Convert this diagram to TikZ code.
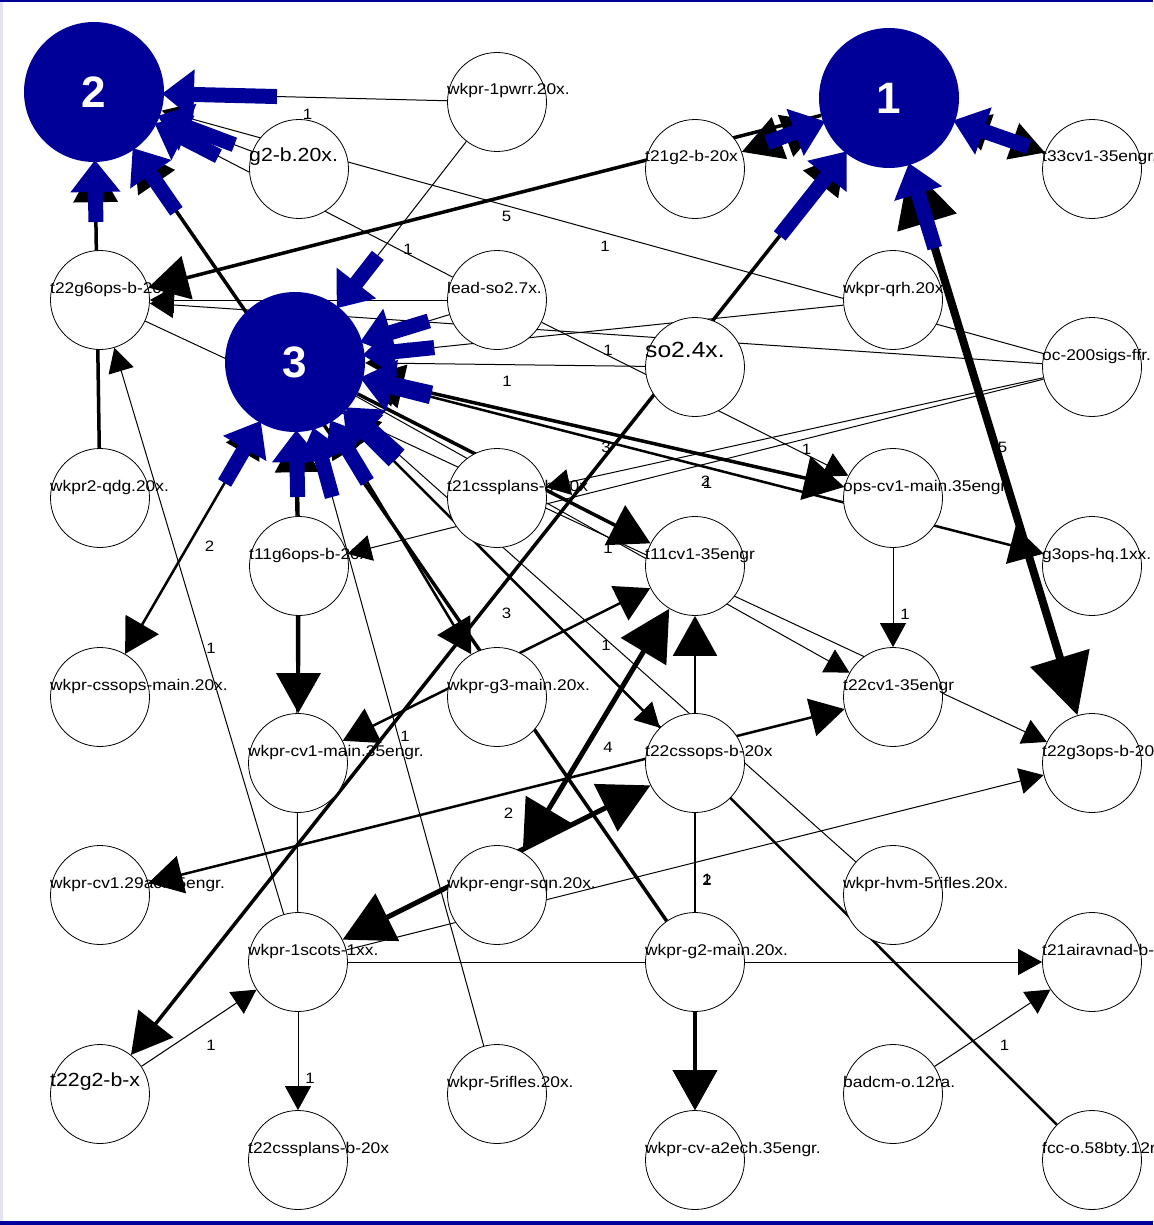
\documentclass[tikz,border=0pt]{standalone}
\usepackage{fontspec}
\usetikzlibrary{arrows.meta,calc}
\newfontfamily\lblfont[FakeStretch=1.12]{Liberation Sans}
\newfontfamily\hubfont{Liberation Sans}
\definecolor{hubblue}{RGB}{0,0,153}
\definecolor{rimlav}{RGB}{226,226,242}
\pgfdeclarelayer{paper}
\pgfdeclarelayer{edges}
\pgfdeclarelayer{hubtips}
\pgfdeclarelayer{labels}
\pgfsetlayers{paper,edges,hubtips,main,labels}

\tikzset{
  TriA/.tip={Triangle[length=24pt,width=26pt]},
  TriB/.tip={Triangle[length=34pt,width=38pt]},
  TriC/.tip={Triangle[length=40pt,width=44pt]},
  TriE/.tip={Triangle[length=50pt,width=52pt]},
  TriD/.tip={Triangle[length=60pt,width=60pt]},
  hub/.style={circle,fill=hubblue,minimum size=140pt,inner sep=0pt,text=white,
    font={\hubfont\bfseries\fontsize{44}{44}\selectfont}},
  vtx/.style={circle,draw=black,line width=0.8pt,fill=white,minimum size=99pt,inner sep=0pt},
  vname/.style={anchor=base west,inner sep=0pt,font={\lblfont\fontsize{15.5}{16}\selectfont}},
  bigname/.style={vname,font={\lblfont\fontsize{19}{20}\selectfont}},
  bigname2/.style={vname,font={\lblfont\fontsize{19}{20}\selectfont},yshift=1pt},
  soname/.style={vname,font={\lblfont\fontsize{22}{24}\selectfont},yshift=3pt},
  wlabel/.style={inner sep=0pt,font={\lblfont\fontsize{15}{16}\selectfont}},
  ea/.style={line width=1pt,-TriA},
  eb/.style={line width=2.5pt,-TriB},
  ec/.style={line width=3.5pt,-TriC},
  ee/.style={line width=5pt,-TriE},
  ed/.style={line width=8pt,-TriD},
  hubin/.style={hubblue,line width=15pt,-{Triangle[length=32pt,width=48pt]}},
}

% a vertex: white circle plus its name, set from the circle's left edge
\newcommand\putvtx[4][vname]{%
  \node[vtx] (#2) at (#3) {};
  \begin{pgfonlayer}{labels}\node[#1] (#2-name) at ($(#2)+(-50,-7)$) {#4};\end{pgfonlayer}}
% heavy blue head of a tie that ends on a hub
\newcommand\hubtip[3][140]{\draw[hubin] ($(#2)!#1pt!(#3)$) -- ($(#2)!68pt!(#3)$);}
% tie value, placed just below the middle of the tie
\newcommand\wlab[4][12,17]{\node[wlabel] (w-#2-#3) at ($(#2)!0.5!(#3)+(#1)$) {#4};}

\begin{document}
\begin{tikzpicture}[x=1pt,y=-1pt]
\useasboundingbox (0,0) rectangle (1153,1225);
\begin{pgfonlayer}{paper}
  \fill[white] (0,0) rectangle (1153,1225);
\end{pgfonlayer}

% hubs
\node[hub] (N1) at (889,98) {1};
\node[hub] (N2) at (94,92) {2};
\node[hub] (N3) at (295,362) {3};

% vertices
\putvtx{pwrr}{497,102}{wkpr-1pwrr.20x.}
\putvtx[bigname]{g2b}{299,169}{g2-b.20x.}
\putvtx{t21g2b}{695,169}{t21g2-b-20x}
\putvtx{t33}{1092,169}{t33cv1-35engr.}
\putvtx{t22g6}{100,300}{t22g6ops-b-20x}
\putvtx{leadso}{497,300}{lead-so2.7x.}
\putvtx{qrh}{893,300}{wkpr-qrh.20x.}
\putvtx[soname]{so24}{695,367}{so2.4x.}
\putvtx{oc200}{1092,367}{oc-200sigs-ffr.}
\putvtx{qdg}{100,498}{wkpr2-qdg.20x.}
\putvtx{t21css}{497,498}{t21cssplans-b-20x}
\putvtx{opscv1}{893,498}{ops-cv1-main.35engr.}
\putvtx{t11g6}{299,566}{t11g6ops-b-20x}
\putvtx{t11cv1}{695,566}{t11cv1-35engr}
\putvtx{g3hq}{1092,566}{g3ops-hq.1xx.}
\putvtx{cssops}{100,697}{wkpr-cssops-main.20x.}
\putvtx{g3main}{497,697}{wkpr-g3-main.20x.}
\putvtx{t22cv1}{893,697}{t22cv1-35engr}
\putvtx{cv1main}{298,763}{wkpr-cv1-main.35engr.}
\putvtx{t22cssops}{695,763}{t22cssops-b-20x}
\putvtx{t22g3}{1092,763}{t22g3ops-b-20x}
\putvtx{cv129}{100,895}{wkpr-cv1.29ac.35engr.}
\putvtx{engrsqn}{497,895}{wkpr-engr-sqn.20x.}
\putvtx{hvm}{893,895}{wkpr-hvm-5rifles.20x.}
\putvtx{scots}{298,962}{wkpr-1scots-1xx.}
\putvtx{g2main}{695,962}{wkpr-g2-main.20x.}
\putvtx{t21air}{1092,962}{t21airavnad-b-20x}
\putvtx[bigname2]{t22g2bx}{100,1094}{t22g2-b-x}
\putvtx{rifles5}{497,1094}{wkpr-5rifles.20x.}
\putvtx{badcm}{893,1094}{badcm-o.12ra.}
\putvtx{t22cssplans}{298,1160}{t22cssplans-b-20x}
\putvtx{cva2}{695,1160}{wkpr-cv-a2ech.35engr.}
\putvtx{fcc}{1092,1160}{fcc-o.58bty.12ra.}

\begin{pgfonlayer}{edges}
  % ties into hub 2
  \draw[ea] (pwrr) -- (N2);
  \draw[ea] (leadso) -- (N2);
  \draw[ea] (g2b) -- (N2);
  \draw[ea] (oc200) -- (N2);
  \draw[ec] (qdg) -- (N2);
  \draw[ec] (g2main) -- (N2);
  % ties into hub 1
  \draw[ec] (N1) -- (t22g6);
  \draw[ec,TriC-TriC] (t21g2b) -- (N1);
  \draw[eb,TriB-TriB] (t33) -- (N1);
  \draw[ec,TriC-TriC] (t22g2bx) -- (N1);
  \draw[ed,TriD-TriD] (t22g3) -- (N1);
  % ties into hub 3
  \draw[ea] (pwrr) -- (N3);
  \draw[ea] (leadso) -- (N3);
  \draw[ea] (so24) -- (N3);
  \draw[ea] (qrh) -- (N3);
  \draw[ec,TriC-TriC] (N3) -- (opscv1);
  \draw[eb,TriB-TriB] (N3) -- (g3hq);
  \draw[ec] (N3) -- (t11cv1);
  \draw[ea] (N3) -- (t22cv1);
  \draw[ea] (N3) -- (t22cssops);
  \draw[eb,TriB-TriB] (N3) -- (cssops);
  \draw[ec] (t11g6) -- (N3);
  \draw[ea] (scots) -- (N3);
  \draw[eb,TriB-TriB] (N3) -- (g3main);
  \draw[ea] (rifles5) -- (N3);
  \draw[ea] (hvm) -- (N3);
  \draw[eb] (fcc) -- (N3);
  % remaining ties
  \draw[ea] (t22g6) -- (t22g3);
  \draw[ea] (oc200) -- (t22g6);
  \draw[ea] (leadso) -- (t22g6);
  \draw[ea] (oc200) -- (t11g6);
  \draw[ea] (oc200) -- (t21css);
  \draw[ea] (leadso) -- (opscv1);
  \draw[ea] (opscv1) -- (t22cv1);
  \draw[ec] (t11g6) -- (cv1main);
  \draw[ea] (scots) -- (t22g6);
  \draw[eb,TriB-TriB] (cv1main) -- (t11cv1);
  \draw[ee,TriE-TriE] (engrsqn) -- (t11cv1);
  \draw[eb,TriB-TriB] (cv129) -- (t22cv1);
  \draw[ee,TriE-TriE] (scots) -- (t22cssops);
  \draw[ea] (scots) -- (t22g3);
  \draw[eb,TriC-TriC] (t11cv1) -- (cva2);
  \draw[ec] (g2main) -- (cva2);
  \draw[ea] (scots) -- (t21air);
  \draw[ea] (badcm) -- (t21air);
  \draw[ea] (t22g2bx) -- (scots);
  \draw[ea] (scots) -- (t22cssplans);

  % tie values
  \wlab{pwrr}{N2}{1}
  \wlab{t22g6}{N1}{5}
  \wlab{oc200}{N2}{1}
  \wlab{pwrr}{N3}{1}
  \wlab{leadso}{N3}{1}
  \wlab{oc200}{t22g6}{1}
  \wlab{N3}{so24}{1}
  \wlab{N3}{opscv1}{3}
  \wlab{oc200}{t21css}{1}
  \wlab{t22g3}{N1}{5}
  \wlab{oc200}{t11g6}{1}
  \wlab{N3}{g3hq}{2}
  \wlab{N3}{cssops}{2}
  \wlab{t22g6}{t22g3}{1}
  \wlab{scots}{t22g6}{1}
  \wlab{t11g6}{cv1main}{1}
  \wlab{t22g2bx}{N1}{3}
  \wlab{N3}{hvm}{1}
  \wlab{opscv1}{t22cv1}{1}
  \wlab{engrsqn}{t11cv1}{4}
  \wlab{cv129}{t22cv1}{2}
  \wlab[9,8]{rifles5}{N3}{1}
  \wlab{scots}{t22g3}{1}
  \wlab{t11cv1}{cva2}{2}
  \wlab{badcm}{t21air}{1}
  \wlab{t22g2bx}{scots}{1}
  \wlab{scots}{t22cssplans}{1}
\end{pgfonlayer}

\begin{pgfonlayer}{hubtips}
  \hubtip[183]{N2}{pwrr}
  \hubtip[140]{N2}{leadso}
  \hubtip[150]{N2}{g2b}
  \hubtip[130]{N2}{qdg}
  \hubtip[145]{N2}{g2main}
  \hubtip[130]{N1}{t21g2b}
  \hubtip[148]{N1}{t33}
  \hubtip[176]{N1}{t22g2bx}
  \hubtip[157]{N1}{t22g3}
  \hubtip[135]{N3}{pwrr}
  \hubtip{N3}{leadso}
  \hubtip{N3}{qrh}
  \hubtip{N3}{opscv1}
  \hubtip{N3}{g3hq}
  \hubtip{N3}{hvm}
  \hubtip{N3}{fcc}
  \hubtip{N3}{g3main}
  \hubtip[135]{N3}{t11g6}
  \hubtip{N3}{cssops}
  \hubtip{N3}{rifles5}
\end{pgfonlayer}

% frame
\begin{pgfonlayer}{labels}
  \fill[hubblue] (0,0) rectangle (1153,2);
  \fill[hubblue] (0,1221) rectangle (1153,1225);
  \fill[rimlav] (0,2) rectangle (3,1221);
\end{pgfonlayer}
\end{tikzpicture}
\end{document}
